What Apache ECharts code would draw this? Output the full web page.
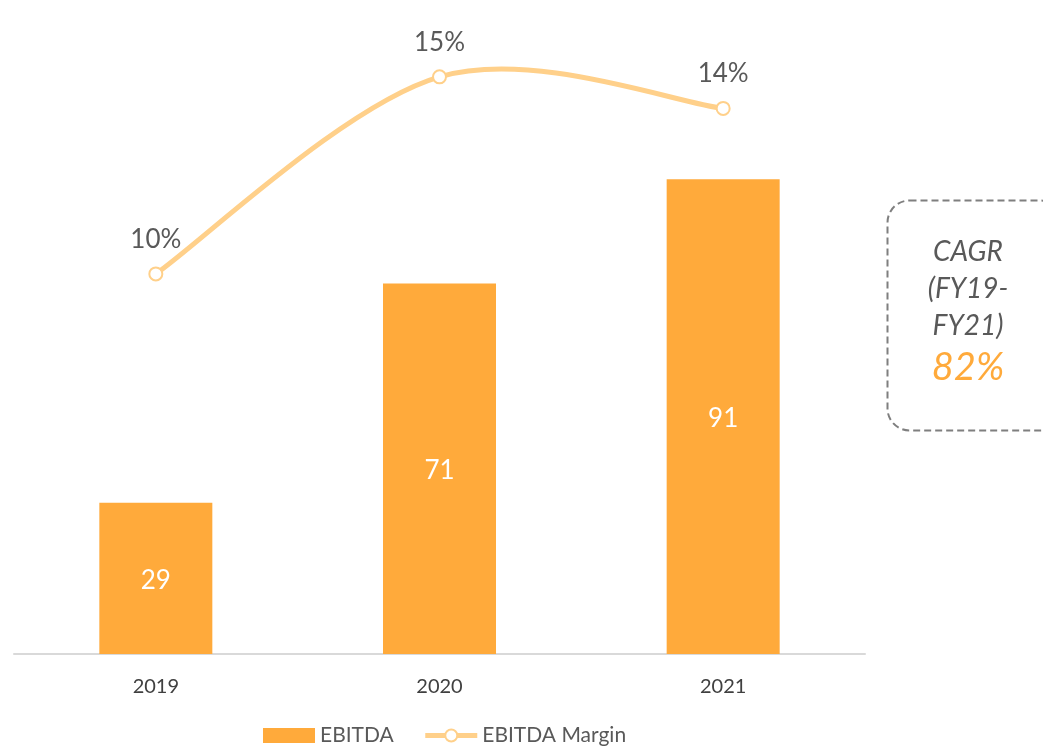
<!DOCTYPE html>
<html>
<head>
<meta charset="utf-8">
<script src="https://cdn.jsdelivr.net/npm/echarts@6/dist/echarts.min.js"></script>
<style>
  html, body { margin: 0; padding: 0; background: #fff; }
  #chart { width: 1043px; height: 752px; }
</style>
</head>
<body>
<div id="chart"></div>
<script>
var years = ['2019', '2020', '2021'];
var ebitda = [29, 71, 91];
var margin = [10, 15, 14.2];
var cagrLines = ['CAGR', '(FY19-', 'FY21)'];
var cagrValue = '82%';

var font = 'Lato, "Open Sans", sans-serif';
var lineColor = '#FFD08A';
var chart = echarts.init(document.getElementById('chart'));

// excel-style smooth curve: bezier segments with catmull-rom control points
function renderSmooth(params, api) {
    var i = params.dataIndex;
    if (i >= margin.length - 1) return null;
    var pts = margin.map(function (v, k) { return api.coord([k, v]); });
    var p0 = pts[Math.max(i - 1, 0)], p1 = pts[i], p2 = pts[i + 1];
    var p3 = pts[Math.min(i + 2, pts.length - 1)];
    return {
        type: 'bezierCurve',
        shape: {
            x1: p1[0], y1: p1[1], x2: p2[0], y2: p2[1],
            cpx1: p1[0] + (p2[0] - p0[0]) / 6, cpy1: p1[1] + (p2[1] - p0[1]) / 6,
            cpx2: p2[0] - (p3[0] - p1[0]) / 6, cpy2: p2[1] - (p3[1] - p1[1]) / 6
        },
        style: { fill: null, stroke: lineColor, lineWidth: 5, lineCap: 'round' }
    };
}

chart.setOption({
    animation: false,
    textStyle: { fontFamily: font },
    grid: { left: 14, right: 178, top: 54, bottom: 98 },
    legend: {
        bottom: 1,
        left: 258,
        itemGap: 29,
        itemWidth: 52,
        itemHeight: 15,
        lineStyle: { width: 5 },
        textStyle: { fontSize: 21, color: '#595959', fontFamily: font },
        data: [
            { name: 'EBITDA', icon: 'rect' },
            { name: 'EBITDA Margin', lineStyle: { width: 5, color: lineColor, opacity: 1 } }
        ]
    },
    xAxis: {
        type: 'category',
        data: years,
        axisTick: { show: false },
        axisLine: { lineStyle: { color: '#d9d9d9', width: 2 } },
        axisLabel: { fontSize: 20, color: '#404040', margin: 23 }
    },
    yAxis: [
        { type: 'value', min: 0, max: 115, show: false, splitLine: { show: false } },
        { type: 'value', min: 0.355, max: 15.58, show: false, splitLine: { show: false } }
    ],
    series: [
        {
            name: 'EBITDA',
            type: 'bar',
            data: ebitda,
            barWidth: 113,
            itemStyle: { color: '#FFAA3B' },
            label: { show: true, position: 'inside', offset: [0, 2], color: '#fff', fontSize: 26 }
        },
        {
            type: 'custom',
            yAxisIndex: 1,
            data: margin,
            z: 3,
            silent: true,
            renderItem: renderSmooth
        },
        {
            name: 'EBITDA Margin',
            type: 'line',
            yAxisIndex: 1,
            data: margin,
            z: 4,
            clip: false,
            symbol: 'circle',
            symbolSize: 13,
            lineStyle: { color: lineColor, width: 5, opacity: 0 },
            itemStyle: { color: '#fff', borderColor: lineColor, borderWidth: 2 },
            label: {
                show: true,
                position: 'top',
                distance: 14,
                fontSize: 26,
                color: '#595959',
                formatter: function (p) { return Math.round(p.value) + '%'; }
            }
        }
    ],
    graphic: [
        {
            type: 'rect',
            left: 885,
            top: 198,
            shape: { width: 175, height: 230, r: 22 },
            style: { fill: 'none', stroke: '#7f7f7f', lineWidth: 2, lineDash: [7, 4] }
        },
        {
            type: 'text',
            style: {
                text: cagrLines.join('\n'),
                x: 968, y: 233,
                textAlign: 'center',
                font: 'italic 28px ' + font,
                fill: '#595959',
                lineHeight: 37
            }
        },
        {
            type: 'text',
            style: {
                text: cagrValue,
                x: 968, y: 349,
                textAlign: 'center',
                font: 'italic 38px ' + font,
                fill: '#FFAA3B'
            }
        }
    ]
});
</script>
</body>
</html>
